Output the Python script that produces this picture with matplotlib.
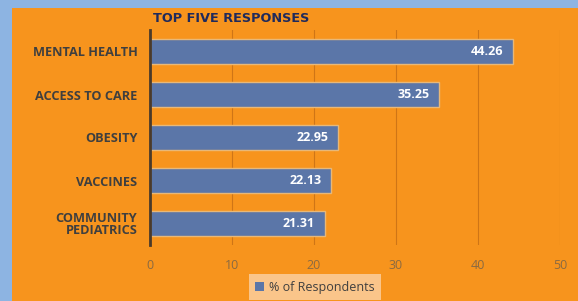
import matplotlib
matplotlib.use("Agg")
import matplotlib.pyplot as plt
from matplotlib.patches import Rectangle

# ── data ──────────────────────────────────────────────
categories = ["MENTAL HEALTH", "ACCESS TO CARE", "OBESITY", "VACCINES", "COMMUNITY\nPEDIATRICS"]
values = [44.26, 35.25, 22.95, 22.13, 21.31]
x_ticks = [0, 10, 20, 30, 40, 50]
series_name = "% of Respondents"
title = "TOP FIVE RESPONSES"

# ── colours ───────────────────────────────────────────
BG_BLUE = "#8db4e2"
ORANGE = "#f7941d"
BAR_BLUE = "#5b76a8"
BAR_EDGE = "#e8b878"
GRID = "#cf7516"
LABEL_DARK = "#3f3f3f"
TICK_COL = "#8a6a42"
NAVY = "#1f2a5c"

W, H = 578, 301
fig = plt.figure(figsize=(W / 100, H / 100), dpi=100)
fig.patch.set_facecolor(BG_BLUE)
fig.patches.append(Rectangle((12 / W, 0), 1, 1 - 8 / H, transform=fig.transFigure,
                             facecolor=ORANGE, edgecolor="none", zorder=-5))

ax = fig.add_axes([150 / W, 1 - 245 / H, 410 / W, 215 / H])
ax.set_facecolor("none")
ax.set_zorder(3)

y = list(range(len(categories)))
bars = ax.barh(y, values, height=0.58, color=BAR_BLUE, edgecolor=BAR_EDGE, linewidth=1.0, zorder=3)
ax.set_xlim(0, 50)
ax.set_ylim(len(categories) - 0.5, -0.5)
ax.set_xticks(x_ticks)
ax.set_yticks(y)
ax.set_yticklabels(categories, fontsize=9.2, fontweight="bold", color=LABEL_DARK,
                   family="Open Sans", linespacing=0.95)
ax.tick_params(axis="y", length=0, pad=9)
ax.tick_params(axis="x", length=0, pad=10, labelsize=9, labelcolor=TICK_COL)
for lab in ax.get_xticklabels():
    lab.set_family("Open Sans")

ax.grid(axis="x", color=GRID, linewidth=0.8, zorder=1)
ax.set_axisbelow(True)
for s in ["top", "right", "bottom"]:
    ax.spines[s].set_visible(False)
ax.spines["left"].set_color("#4a3a2a")
ax.spines["left"].set_linewidth(2)
ax.spines["left"].set_zorder(4)

for bar, val in zip(bars, values):
    ax.text(bar.get_width() - 1.2, bar.get_y() + bar.get_height() / 2, f"{val:.2f}",
            ha="right", va="center", color="white", fontsize=9, fontweight="bold",
            family="Open Sans", zorder=5)

fig.text(153 / W, 1 - 19 / H, title, ha="left", va="center", fontsize=9.3,
         fontweight="bold", color=NAVY, family="DejaVu Sans", zorder=4)

leg = fig.legend([Rectangle((0, 0), 1, 1, facecolor=BAR_BLUE)], [series_name],
                 loc="center", bbox_to_anchor=(315 / W, 1 - 287 / H),
                 frameon=True, handlelength=0.7, handleheight=0.7,
                 handletextpad=0.4, borderpad=0.5, fancybox=False,
                 prop={"family": "Open Sans", "size": 9})
leg.get_frame().set_facecolor("#fac58a")
leg.get_frame().set_edgecolor("none")
leg.get_frame().set_alpha(1)
leg.set_zorder(4)
for t in leg.get_texts():
    t.set_color(LABEL_DARK)

fig.savefig("out.png", dpi=100, facecolor=fig.get_facecolor())
